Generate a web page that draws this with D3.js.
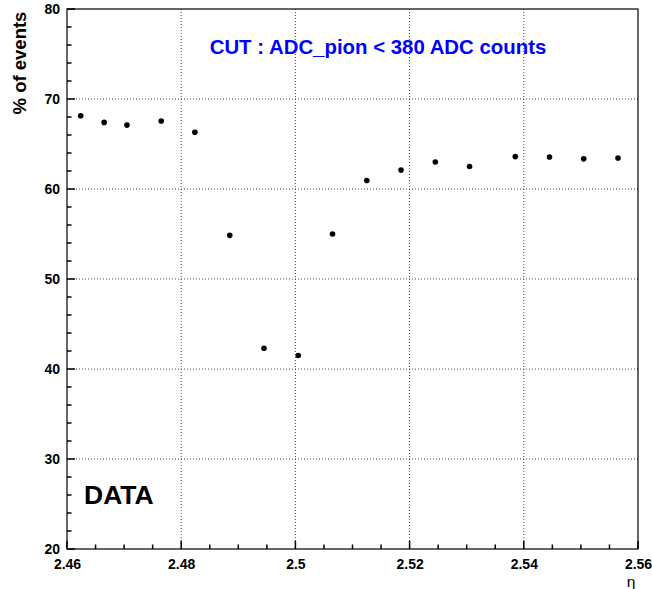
<!DOCTYPE html>
<html><head><meta charset="utf-8">
<script src="https://cdn.jsdelivr.net/npm/d3@7"></script>
<style>body{margin:0;background:#fff}svg{display:block}text{font-family:"Liberation Sans",Arial,Helvetica,sans-serif}</style>
</head><body>
<svg id="c" width="652" height="589"></svg>
<script>
const etaValues = [2.4624,2.4665,2.4705,2.4765,2.4824,2.4885,2.4945,2.5005,2.5065,2.5125,2.5185,2.5245,2.5305,2.5385,2.5445,2.5505,2.5565];
const percentValues = [68.14,67.4,67.1,67.55,66.3,54.85,42.3,41.5,55.0,60.95,62.1,63.0,62.5,63.6,63.55,63.35,63.45];
const xTickValues = [2.46,2.48,2.50,2.52,2.54,2.56];
const xTickLabels = ["2.46","2.48","2.5","2.52","2.54","2.56"];
const yTickValues = [20,30,40,50,60,70,80];
const yTickLabels = ["20","30","40","50","60","70","80"];

const svg = d3.select("#c");
const L=67, R=638, T=9, B=549;
const x = d3.scaleLinear().domain([2.46,2.56]).range([L,R]);
const y = d3.scaleLinear().domain([20,80]).range([B,T]);

// grid
const g = svg.append("g");
xTickValues.slice(1,-1).forEach(v=>{
  g.append("line").attr("x1",x(v)).attr("x2",x(v)).attr("y1",T).attr("y2",B)
   .attr("stroke","#444").attr("stroke-width",1).attr("stroke-dasharray","1,2");
});
yTickValues.slice(1,-1).forEach(v=>{
  g.append("line").attr("x1",L).attr("x2",R).attr("y1",y(v)).attr("y2",y(v))
   .attr("stroke","#444").attr("stroke-width",1).attr("stroke-dasharray","1,2");
});

// frame
svg.append("rect").attr("x",L).attr("y",T).attr("width",R-L).attr("height",B-T)
  .attr("fill","none").attr("stroke","#000").attr("stroke-width",1.2);

// x ticks
const minorX = d3.range(0,21).map(i=>2.46+i*0.005);
minorX.forEach((v,i)=>{
  const major = i%4===0;
  svg.append("line").attr("x1",x(v)).attr("x2",x(v)).attr("y1",B).attr("y2",B-(major?8:4.5))
    .attr("stroke","#000").attr("stroke-width",1.5);
});
const xAxis = d3.axisBottom(x).tickValues(xTickValues).tickFormat((d,i)=>xTickLabels[i]).tickSize(0);
const xa = svg.append("g").attr("transform",`translate(0,${B})`).call(xAxis);
xa.select(".domain").remove();
xa.selectAll("text").attr("font-size",14).attr("font-weight","bold").attr("fill","#000").attr("dy","1.2em")
  .style("font-family",'"Liberation Sans",Arial,sans-serif');

// y ticks
const minorY = d3.range(0,31).map(i=>20+i*2);
minorY.forEach((v,i)=>{
  const major = i%5===0;
  svg.append("line").attr("y1",y(v)).attr("y2",y(v)).attr("x1",L).attr("x2",L+(major?8:4.5))
    .attr("stroke","#000").attr("stroke-width",1.5);
});
const yAxis = d3.axisLeft(y).tickValues(yTickValues).tickFormat((d,i)=>yTickLabels[i]).tickSize(0).tickPadding(7);
const ya = svg.append("g").attr("transform",`translate(${L},0)`).call(yAxis);
ya.select(".domain").remove();
ya.selectAll("text").attr("font-size",14).attr("font-weight","bold").attr("fill","#000")
  .style("font-family",'"Liberation Sans",Arial,sans-serif');

// points
svg.append("g").selectAll("circle").data(etaValues).join("circle")
  .attr("cx",d=>x(d)).attr("cy",(d,i)=>y(percentValues[i])).attr("r",2.8).attr("fill","#000");

// labels
svg.append("text").attr("transform","translate(26,63) rotate(-90)").attr("text-anchor","middle")
  .attr("font-size",18.5).attr("font-weight","bold").text("% of events");
svg.append("text").attr("x",631).attr("y",586.5).attr("text-anchor","middle").attr("font-size",15.5).text("η");
svg.append("text").attr("x",378).attr("y",54).attr("text-anchor","middle").attr("font-size",20.4)
  .attr("font-weight","bold").attr("fill","#0000ff").text("CUT : ADC_pion < 380 ADC counts");
svg.append("text").attr("x",84).attr("y",504).attr("font-size",26.5).attr("font-weight","bold").text("DATA");
</script>
</body></html>
